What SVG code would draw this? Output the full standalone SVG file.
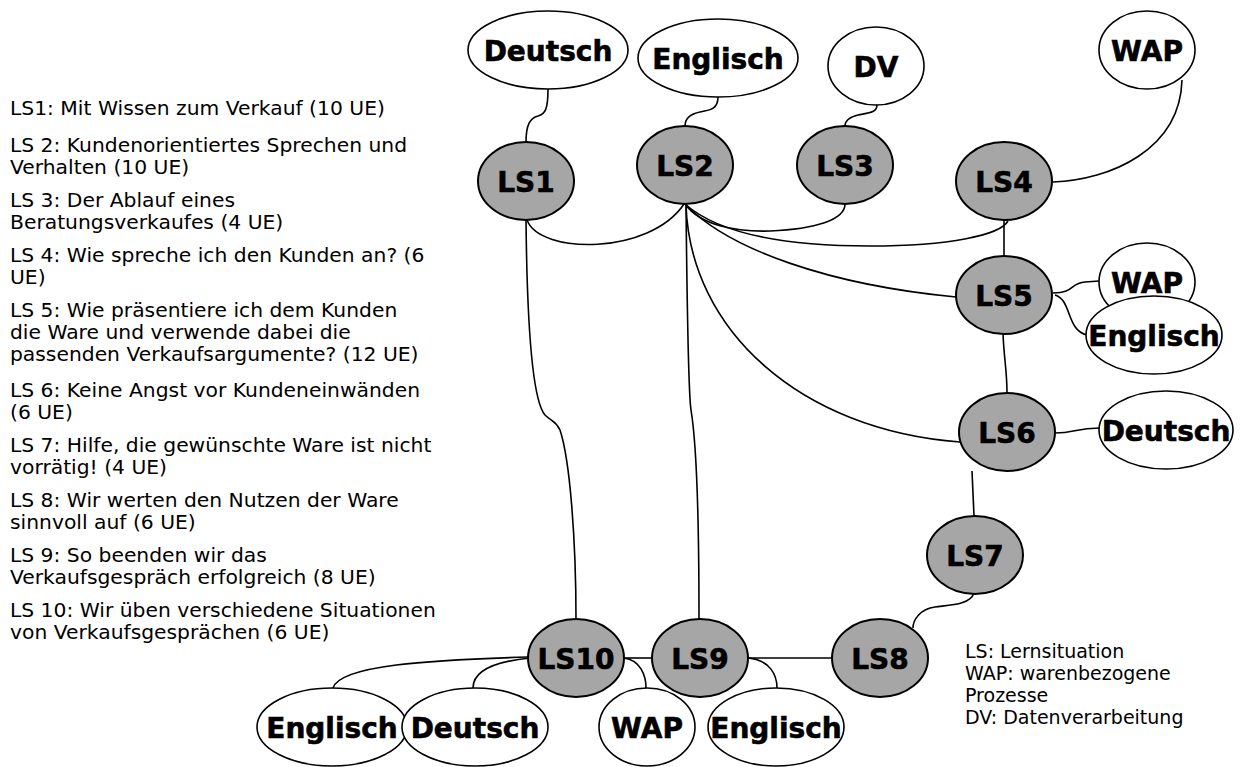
<svg xmlns="http://www.w3.org/2000/svg" width="1248" height="767" viewBox="0 0 1248 767">
<style>
.bg{fill:#ffffff}
.ls ellipse{fill:#a6a6a6;stroke:#000;stroke-width:2}
.sub ellipse{fill:#ffffff;stroke:#000;stroke-width:1.6}
.lbl{font-family:"DejaVu Sans",Verdana,sans-serif;font-weight:bold;font-size:28px;fill:#000;stroke:#000;stroke-width:0.6;text-anchor:middle}
.desc{font-family:"DejaVu Sans",Verdana,sans-serif;font-size:20.3px;fill:#000}
.legend{font-family:"DejaVu Sans",Tahoma,sans-serif;font-size:19px;fill:#000}
#connectors path{fill:none;stroke:#000;stroke-width:1.6}
</style>
<rect class="bg" x="0" y="0" width="1248" height="767"/>

<g id="description">
<text class="desc" x="10" y="115">LS1: Mit Wissen zum Verkauf (10 UE)</text>
<text class="desc" x="10" y="152">LS 2: Kundenorientiertes Sprechen und</text>
<text class="desc" x="10" y="174">Verhalten (10 UE)</text>
<text class="desc" x="10" y="207">LS 3: Der Ablauf eines</text>
<text class="desc" x="10" y="229">Beratungsverkaufes (4 UE)</text>
<text class="desc" x="10" y="262">LS 4: Wie spreche ich den Kunden an? (6</text>
<text class="desc" x="10" y="284">UE)</text>
<text class="desc" x="10" y="317">LS 5: Wie präsentiere ich dem Kunden</text>
<text class="desc" x="10" y="339">die Ware und verwende dabei die</text>
<text class="desc" x="10" y="361">passenden Verkaufsargumente? (12 UE)</text>
<text class="desc" x="10" y="397">LS 6: Keine Angst vor Kundeneinwänden</text>
<text class="desc" x="10" y="419">(6 UE)</text>
<text class="desc" x="10" y="452">LS 7: Hilfe, die gewünschte Ware ist nicht</text>
<text class="desc" x="10" y="474">vorrätig! (4 UE)</text>
<text class="desc" x="10" y="507">LS 8: Wir werten den Nutzen der Ware</text>
<text class="desc" x="10" y="529">sinnvoll auf (6 UE)</text>
<text class="desc" x="10" y="562">LS 9: So beenden wir das</text>
<text class="desc" x="10" y="584">Verkaufsgespräch erfolgreich (8 UE)</text>
<text class="desc" x="10" y="617">LS 10: Wir üben verschiedene Situationen</text>
<text class="desc" x="10" y="639">von Verkaufsgesprächen (6 UE)</text>
</g>

<g id="legend">
<text class="legend" x="965" y="658">LS: Lernsituation</text>
<text class="legend" x="965" y="680">WAP: warenbezogene</text>
<text class="legend" x="965" y="702">Prozesse</text>
<text class="legend" x="965" y="724">DV: Datenverarbeitung</text>
</g>

<g id="connectors">
<path d="M548,89 C548,110 545,114 538,116 C530,118 526,125 526,142"/>
<path d="M718,97 C718,108 712,110 700,112 C690,114 685,118 685,126"/>
<path d="M877,105 C877,113 868,113 858,115 C850,117 845,120 845,126"/>
<path d="M1182,80 C1180,150 1110,180 1053,182"/>
<path d="M527,220 C540,255 650,255 684,204"/>
<path d="M685,204 C700,225 735,232 770,231 C815,229 845,220 845,204"/>
<path d="M685,204 C720,235 790,246 870,246 C950,246 1000,235 1008,221"/>
<path d="M1004,220 L1004,256"/>
<path d="M686,205 C730,250 830,285 956,297"/>
<path d="M686,205 C690,330 800,430 960,442"/>
<path d="M526,220 C527,320 532,400 545,415 C552,422 555,420 560,430 C570,460 576,540 576,619"/>
<path d="M686,204 C687,300 688,390 691,410 C696,440 699,500 699,619"/>
<path d="M1003,333 C1004,360 1007,370 1007,393"/>
<path d="M1053,293 C1075,293 1070,283 1085,282 L1099,281"/>
<path d="M1055,295 C1072,300 1066,330 1087,335"/>
<path d="M1055,433 C1075,433 1075,428 1100,428"/>
<path d="M972,471 L974,516"/>
<path d="M974,593 C970,605 950,605 935,607 C920,609 913,620 913,628"/>
<path d="M748,658 L832,658"/>
<path d="M624,658 L652,658"/>
<path d="M528,657 C430,660 340,665 333,688"/>
<path d="M530,658 C490,662 473,672 473,688"/>
<path d="M624,658 C640,660 646,675 646,688"/>
<path d="M748,658 C770,660 777,675 777,688"/>
</g>

<g id="ls1" class="ls"><ellipse cx="526" cy="181" rx="48" ry="39"/><text class="lbl" x="526" y="192">LS1</text></g>
<g id="ls2" class="ls"><ellipse cx="685" cy="165" rx="48" ry="39"/><text class="lbl" x="685" y="176">LS2</text></g>
<g id="ls3" class="ls"><ellipse cx="845" cy="165" rx="48" ry="39"/><text class="lbl" x="845" y="176">LS3</text></g>
<g id="ls4" class="ls"><ellipse cx="1004" cy="181" rx="48" ry="39"/><text class="lbl" x="1004" y="192">LS4</text></g>
<g id="ls5" class="ls"><ellipse cx="1004" cy="295" rx="48" ry="39"/><text class="lbl" x="1004" y="306">LS5</text></g>
<g id="ls6" class="ls"><ellipse cx="1007" cy="432" rx="48" ry="39"/><text class="lbl" x="1007" y="443">LS6</text></g>
<g id="ls7" class="ls"><ellipse cx="975" cy="555" rx="48" ry="39"/><text class="lbl" x="975" y="566">LS7</text></g>
<g id="ls8" class="ls"><ellipse cx="880" cy="658" rx="48" ry="39"/><text class="lbl" x="880" y="669">LS8</text></g>
<g id="ls9" class="ls"><ellipse cx="700" cy="658" rx="48" ry="39"/><text class="lbl" x="700" y="669">LS9</text></g>
<g id="ls10" class="ls"><ellipse cx="576" cy="658" rx="48" ry="39"/><text class="lbl" x="576" y="669">LS10</text></g>

<g id="deutsch-top" class="sub"><ellipse cx="548" cy="50" rx="80" ry="39"/><text class="lbl" x="548" y="61">Deutsch</text></g>
<g id="englisch-top" class="sub"><ellipse cx="718" cy="58" rx="80" ry="39"/><text class="lbl" x="718" y="69">Englisch</text></g>
<g id="dv-top" class="sub"><ellipse cx="876" cy="66" rx="48" ry="39"/><text class="lbl" x="876" y="77">DV</text></g>
<g id="wap-top" class="sub"><ellipse cx="1147" cy="50" rx="48" ry="39"/><text class="lbl" x="1147" y="61">WAP</text></g>
<g id="wap-ls5" class="sub"><ellipse cx="1147" cy="282" rx="48" ry="39"/><text class="lbl" x="1147" y="293">WAP</text></g>
<g id="englisch-ls5" class="sub"><ellipse cx="1154" cy="335" rx="68" ry="39"/><text class="lbl" x="1154" y="346">Englisch</text></g>
<g id="deutsch-ls6" class="sub"><ellipse cx="1166" cy="430" rx="67" ry="39"/><text class="lbl" x="1166" y="441">Deutsch</text></g>
<g id="englisch-ls10" class="sub"><ellipse cx="332" cy="727" rx="75" ry="39"/><text class="lbl" x="332" y="738">Englisch</text></g>
<g id="deutsch-ls10" class="sub"><ellipse cx="475" cy="727" rx="73" ry="39"/><text class="lbl" x="475" y="738">Deutsch</text></g>
<g id="wap-ls10" class="sub"><ellipse cx="647" cy="727" rx="48" ry="39"/><text class="lbl" x="647" y="738">WAP</text></g>
<g id="englisch-ls9" class="sub"><ellipse cx="776" cy="727" rx="68" ry="39"/><text class="lbl" x="776" y="738">Englisch</text></g>
</svg>
